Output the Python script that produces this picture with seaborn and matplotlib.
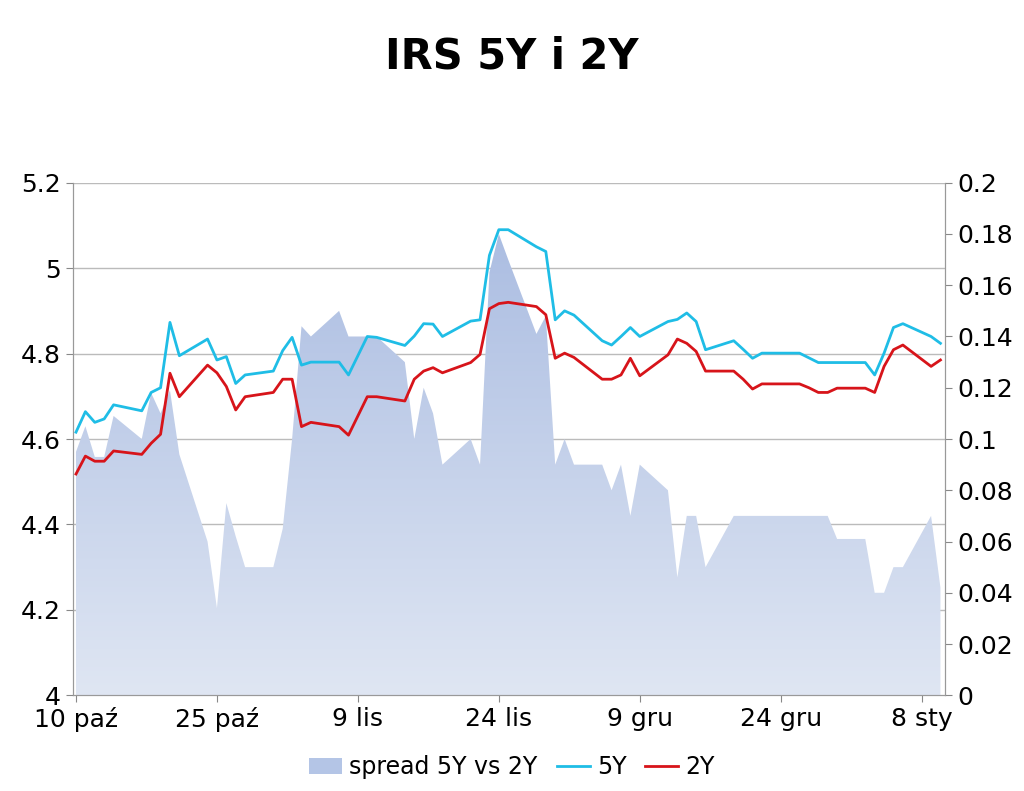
import numpy as np
import pandas as pd
import matplotlib
matplotlib.use("Agg")
import matplotlib.pyplot as plt
import seaborn as sns
from matplotlib.patches import Patch
from matplotlib.lines import Line2D

days = [0,1,2,3,4,7,8,9,10,11,14,15,16,17,18,21,22,23,24,25,28,29,31,32,35,36,37,38,39,42,43,44,45,46,
        49,50,51,52,53,56,57,58,59,60,63,64,65,66,67,70,71,72,73,77,78,79,80,81,84,85,86,87,88,91,92]
irs5y = [4.616,4.664,4.639,4.647,4.680,4.666,4.709,4.720,4.873,4.795,4.834,4.785,4.793,4.730,4.750,4.759,4.807,4.838,4.773,4.780,
         4.780,4.750,4.840,4.838,4.819,4.841,4.870,4.869,4.840,4.876,4.879,5.030,5.090,5.090,
         5.050,5.039,4.879,4.900,4.890,4.830,4.820,4.840,4.861,4.840,4.875,4.880,4.895,4.875,4.809,4.830,4.810,4.789,4.801,4.801,4.790,4.779,4.779,4.779,4.779,4.750,4.801,4.861,4.870,4.840,4.824]
irs2y = [4.518,4.560,4.548,4.548,4.572,4.564,4.590,4.611,4.754,4.699,4.773,4.755,4.723,4.668,4.699,4.709,4.740,4.740,4.629,4.639,
         4.629,4.609,4.699,4.699,4.689,4.740,4.759,4.767,4.755,4.779,4.798,4.905,4.917,4.920,
         4.910,4.891,4.789,4.801,4.791,4.740,4.740,4.750,4.789,4.748,4.797,4.834,4.824,4.805,4.759,4.759,4.740,4.717,4.729,4.729,4.720,4.709,4.709,4.719,4.719,4.709,4.770,4.809,4.820,4.770,4.785]
spread = [0.095,0.105,0.093,0.093,0.109,0.100,0.118,0.110,0.119,0.094,0.060,0.034,0.075,0.062,0.050,0.050,0.065,0.100,0.144,0.140,
          0.150,0.140,0.140,0.140,0.130,0.100,0.120,0.110,0.090,0.100,0.090,0.165,0.180,0.170,
          0.141,0.148,0.090,0.100,0.090,0.090,0.080,0.090,0.070,0.090,0.080,0.046,0.070,0.070,0.050,0.070,0.070,0.070,0.070,0.070,0.070,0.070,0.070,0.061,0.061,0.040,0.040,0.050,0.050,0.070,0.042]
tick_days = [0,15,30,45,60,75,90]
tick_labels = ["10 paź","25 paź","9 lis","24 lis","9 gru","24 gru","8 sty"]
left_ticks = [4.0, 4.2, 4.4, 4.6, 4.8, 5.0, 5.2]

df = pd.DataFrame({"day": days, "5Y": irs5y, "2Y": irs2y, "spread": spread})

plt.rcParams["font.family"] = "DejaVu Sans"
fig = plt.figure(figsize=(10.24, 7.91), dpi=100)
ax = fig.add_axes([0.071, 0.121, 0.852, 0.648])
ax2 = ax.twinx()
ax.set_zorder(2); ax.patch.set_visible(False)

xlim = (-0.35, 92.5)
ax2.set_xlim(xlim); ax2.set_ylim(0, 0.2)
# gridlines behind the area (drawn on the spread axis, at left-axis levels)
for v in left_ticks[1:]:
    ax2.axhline((v - 4.0) / 6.0, color="#bbbbbb", lw=1, zorder=0)
poly = ax2.fill_between(df["day"], 0, df["spread"], color="none", lw=0)
grad = np.linspace(0, 1, 256).reshape(-1, 1)
cmap = matplotlib.colors.LinearSegmentedColormap.from_list("g", ["#dfe6f3", "#a6b9e0"])
im = ax2.imshow(grad, extent=[xlim[0], xlim[1], 0, 0.2], origin="lower", aspect="auto", cmap=cmap, zorder=1)
im.set_clip_path(poly.get_paths()[0], transform=ax2.transData)
ax2.set_xlim(xlim); ax2.set_ylim(0, 0.2)

sns.lineplot(data=df, x="day", y="5Y", ax=ax, color="#1fbde6", lw=2)
sns.lineplot(data=df, x="day", y="2Y", ax=ax, color="#d7141a", lw=2)
ax.set_xlim(xlim); ax.set_ylim(4, 5.2)
ax.set_yticks(left_ticks)
ax.set_yticklabels(["4","4.2","4.4","4.6","4.8","5","5.2"])
ax2.set_yticks(np.arange(0, 0.201, 0.02))
ax2.set_yticklabels(["0"] + [f"{v:.2f}".rstrip("0") for v in np.arange(0.02, 0.201, 0.02)])
ax.set_xticks(tick_days); ax.set_xticklabels(tick_labels)
ax.set_xlabel(""); ax.set_ylabel(""); ax2.set_ylabel("")
for a in (ax, ax2):
    a.tick_params(labelsize=18, color="#888888", length=5)
    for s in a.spines.values():
        s.set_color("#999999")
    a.spines["top"].set_visible(False)

fig.suptitle("IRS 5Y i 2Y", fontsize=30, fontweight="bold", y=0.955)
handles = [Patch(facecolor="#b4c5e6", edgecolor="none"),
           Line2D([], [], color="#1fbde6", lw=2), Line2D([], [], color="#d7141a", lw=2)]
fig.legend(handles, ["spread 5Y vs 2Y", "5Y", "2Y"], loc="lower center", bbox_to_anchor=(0.5, -0.012),
           ncol=3, frameon=False, fontsize=17, handlelength=1.4, columnspacing=0.8, handletextpad=0.3)
fig.savefig("out.png", dpi=100)
